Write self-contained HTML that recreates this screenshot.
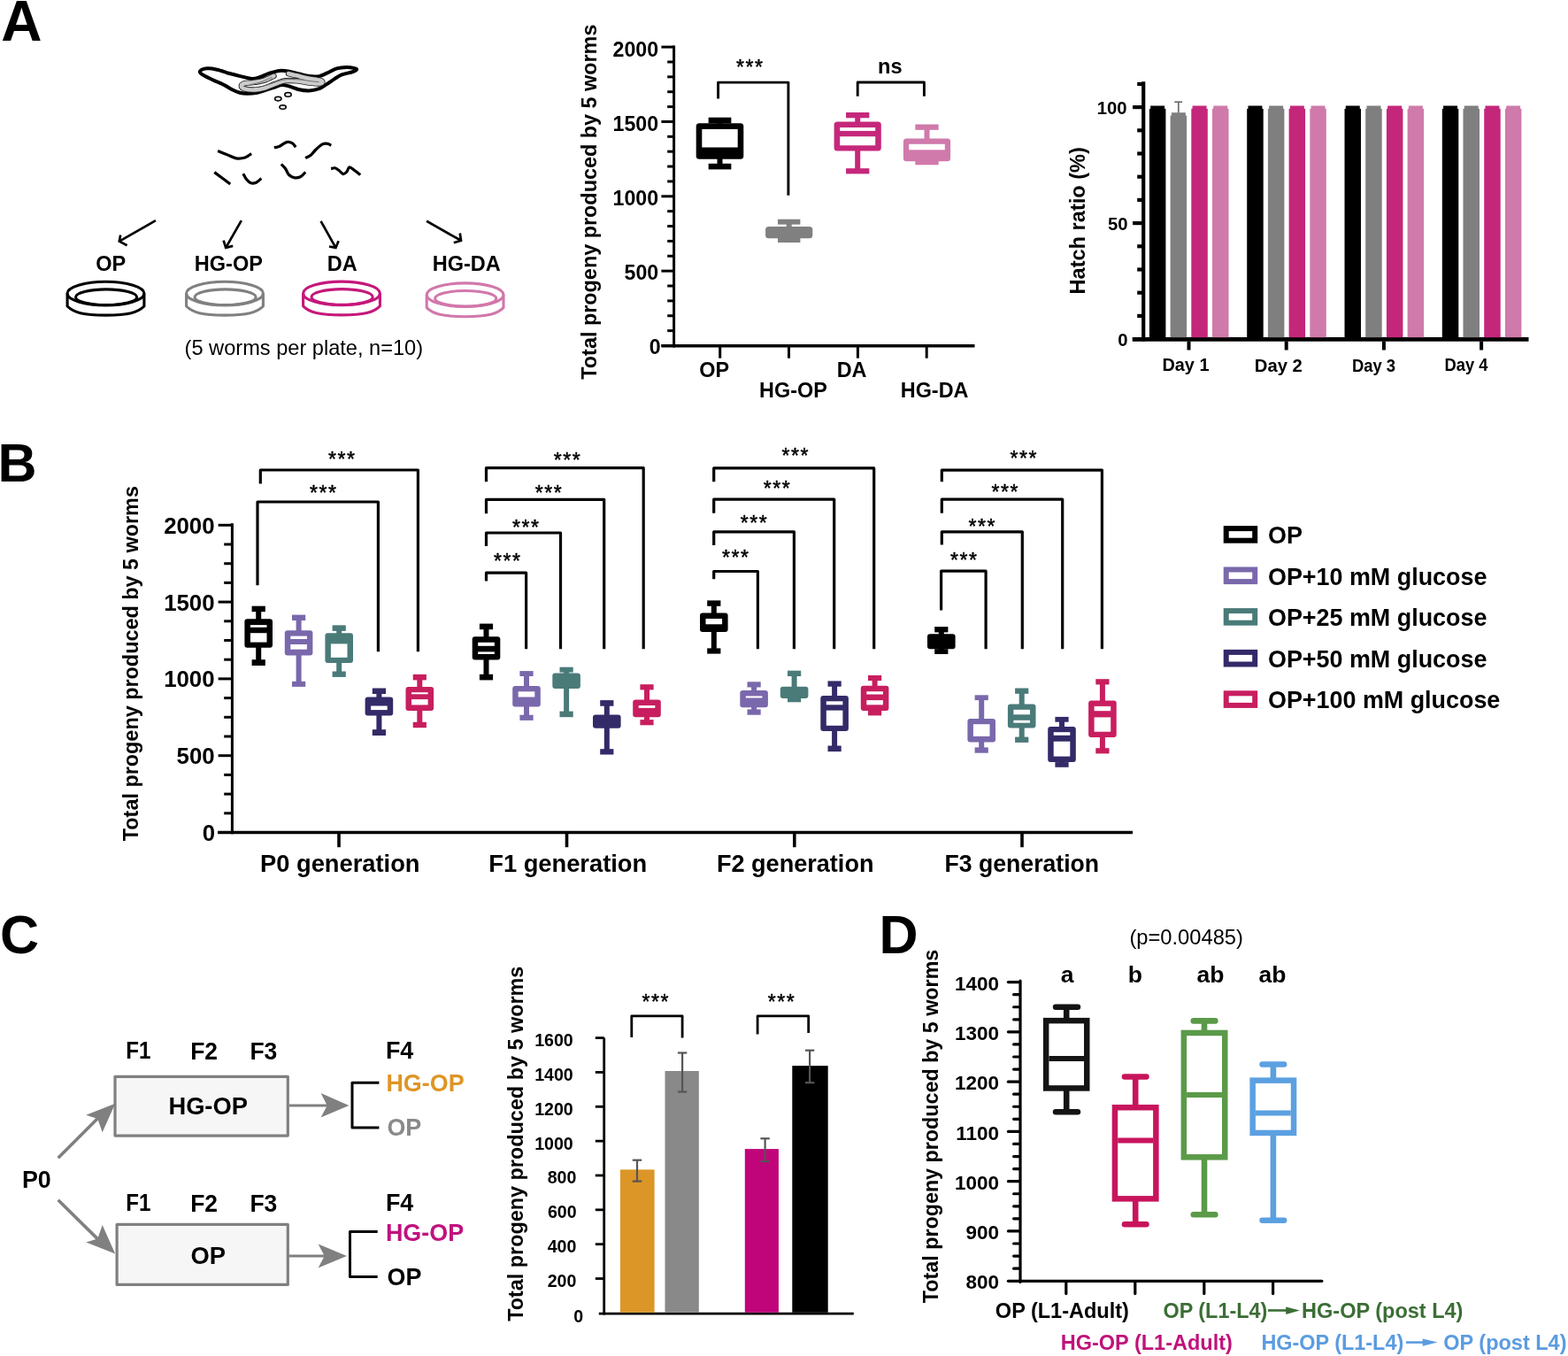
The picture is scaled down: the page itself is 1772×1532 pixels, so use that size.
<!DOCTYPE html><html><head><meta charset="utf-8"><style>html,body{margin:0;padding:0;background:#fff;}svg{display:block;font-family:"Liberation Sans",sans-serif;}</style></head><body>
<svg width="1772" height="1532" viewBox="0 0 1772 1532">
<rect width="1772" height="1532" fill="#fff"/>
<text x="1.2" y="46.46" font-size="64" font-weight="bold" fill="#000">A</text>
<path d="M226.2,80.2 C227.13,79.05 230.9,77.55 234.1,77.3 C237.3,77.05 241.17,77.75 245.4,78.7 C249.63,79.65 254.8,81.68 259.5,83 C264.2,84.32 269.37,85.62 273.6,86.6 C277.83,87.58 281.6,88.8 284.9,88.9 C288.2,89 290.12,88.23 293.4,87.2 C296.68,86.17 300.85,83.92 304.6,82.7 C308.35,81.48 312.18,80.23 315.9,79.9 C319.62,79.57 323.18,80.1 326.9,80.7 C330.62,81.3 334.43,82.6 338.2,83.5 C341.97,84.4 345.73,85.67 349.5,86.1 C353.27,86.53 357.5,86.67 360.8,86.1 C364.1,85.53 366.02,84.17 369.3,82.7 C372.58,81.23 376.75,78.43 380.5,77.3 C384.25,76.17 388.58,75.97 391.8,75.9 C395.02,75.83 397.93,76.45 399.8,76.9 C401.67,77.35 403.38,77.83 403,78.6 C402.62,79.37 400.3,80.53 397.5,81.5 C394.7,82.47 389.5,83.08 386.2,84.4 C382.9,85.72 380.52,87.62 377.7,89.4 C374.88,91.18 372.12,93.3 369.3,95.1 C366.48,96.9 364.1,98.98 360.8,100.2 C357.5,101.42 353.27,102.22 349.5,102.4 C345.73,102.58 341.97,102.12 338.2,101.3 C334.43,100.48 330.18,98.38 326.9,97.5 C323.62,96.62 321.23,95.83 318.5,96 C315.77,96.17 313.58,97.53 310.5,98.5 C307.42,99.47 303.33,100.77 300,101.8 C296.67,102.83 293.95,104.03 290.5,104.7 C287.05,105.37 282.58,105.8 279.3,105.8 C276.02,105.8 273.63,105.45 270.8,104.7 C267.97,103.95 265.32,102.8 262.3,101.3 C259.28,99.8 256.45,97.58 252.7,95.7 C248.95,93.82 243.83,91.92 239.8,90 C235.77,88.08 230.77,85.83 228.5,84.2 C226.23,82.57 225.27,81.35 226.2,80.2Z" stroke="#000" stroke-width="4" fill="#fff" stroke-linejoin="round"/>
<path d="M309.5,85.8 C307.75,86.6 302.92,89.37 299,90.6 C295.08,91.83 289.83,92.6 286,93.2 C282.17,93.8 278.2,93.48 276,94.2 C273.8,94.92 272.63,96.43 272.8,97.5 C272.97,98.57 274.3,99.95 277,100.6 C279.7,101.25 285.17,101.63 289,101.4 C292.83,101.17 296.33,100.3 300,99.2 C303.67,98.1 307.33,96.13 311,94.8 C314.67,93.47 317.83,91.77 322,91.2 C326.17,90.63 331.33,91 336,91.4 C340.67,91.8 345.75,93.1 350,93.6 C354.25,94.1 359.08,94.57 361.5,94.4 C363.92,94.23 364.58,93.23 364.5,92.6 C364.42,91.97 363.75,91.3 361,90.6 C358.25,89.9 352.17,89.23 348,88.4 C343.83,87.57 339.67,86.47 336,85.6 C332.33,84.73 327.67,83.6 326,83.2" stroke="#222" stroke-width="6.4" fill="none" stroke-linecap="round" stroke-linejoin="round"/>
<path d="M309.5,85.8 C307.75,86.6 302.92,89.37 299,90.6 C295.08,91.83 289.83,92.6 286,93.2 C282.17,93.8 278.2,93.48 276,94.2 C273.8,94.92 272.63,96.43 272.8,97.5 C272.97,98.57 274.3,99.95 277,100.6 C279.7,101.25 285.17,101.63 289,101.4 C292.83,101.17 296.33,100.3 300,99.2 C303.67,98.1 307.33,96.13 311,94.8 C314.67,93.47 317.83,91.77 322,91.2 C326.17,90.63 331.33,91 336,91.4 C340.67,91.8 345.75,93.1 350,93.6 C354.25,94.1 359.08,94.57 361.5,94.4 C363.92,94.23 364.58,93.23 364.5,92.6 C364.42,91.97 363.75,91.3 361,90.6 C358.25,89.9 352.17,89.23 348,88.4 C343.83,87.57 339.67,86.47 336,85.6 C332.33,84.73 327.67,83.6 326,83.2" stroke="#cbcbcb" stroke-width="4.6" fill="none" stroke-linecap="round" stroke-linejoin="round"/>
<path d="M307,87.5 C305.17,88.3 299.83,90.95 296,92.3 C292.17,93.65 287.08,94.72 284,95.6 C280.92,96.48 277.67,97.07 277.5,97.6 C277.33,98.13 279.75,98.83 283,98.8 C286.25,98.77 292.5,98.33 297,97.4 C301.5,96.47 305.83,94.47 310,93.2 C314.17,91.93 317.33,90.35 322,89.8 C326.67,89.25 333,89.57 338,89.9 C343,90.23 348.33,91.35 352,91.8 C355.67,92.25 358.67,92.47 360,92.6" stroke="#555" stroke-width="0.8" fill="none" stroke-linecap="round"/>
<ellipse cx="314.3" cy="111.6" rx="3.7" ry="2.3" fill="#e8e8e8" stroke="#000" stroke-width="1.5"/>
<ellipse cx="325.5" cy="106.9" rx="3.7" ry="2.3" fill="#e8e8e8" stroke="#000" stroke-width="1.5"/>
<ellipse cx="319.6" cy="121" rx="3.7" ry="2.3" fill="#e8e8e8" stroke="#000" stroke-width="1.5"/>
<path d="M246.1,170.6 C247.75,171.25 252.53,173.13 256,174.5 C259.47,175.87 263.4,178.22 266.9,178.8 C270.4,179.38 274.13,178.87 277,178 C279.87,177.13 282.92,174.33 284.1,173.6" stroke="#000" stroke-width="3.2" fill="none" stroke-linecap="butt" stroke-linejoin="round"/>
<path d="M309.8,166.8 C310.83,166.53 313.67,166.23 316,165.2 C318.33,164.17 321.38,161.17 323.8,160.6 C326.22,160.03 328.77,160.85 330.5,161.8 C332.23,162.75 333.58,165.55 334.2,166.3" stroke="#000" stroke-width="3.2" fill="none" stroke-linecap="butt" stroke-linejoin="round"/>
<path d="M345.2,178.6 C346.17,178.08 349.03,177.1 351,175.5 C352.97,173.9 354.83,171.05 357,169 C359.17,166.95 361.83,164.32 364,163.2 C366.17,162.08 368.28,162.13 370,162.3 C371.72,162.47 373.58,163.88 374.3,164.2" stroke="#000" stroke-width="3.2" fill="none" stroke-linecap="butt" stroke-linejoin="round"/>
<path d="M242.3,194.6 C245.28,196.83 257.22,205.77 260.2,208" stroke="#000" stroke-width="3.2" fill="none" stroke-linecap="butt" stroke-linejoin="round"/>
<path d="M274.8,196.2 C275.42,197.25 277.05,200.73 278.5,202.5 C279.95,204.27 281.67,206.18 283.5,206.8 C285.33,207.42 287.53,207.07 289.5,206.2 C291.47,205.33 294.33,202.37 295.3,201.6" stroke="#000" stroke-width="3.2" fill="none" stroke-linecap="butt" stroke-linejoin="round"/>
<path d="M317.8,185.5 C318.58,186.33 321.05,188.5 322.5,190.5 C323.95,192.5 324.75,195.78 326.5,197.5 C328.25,199.22 330.75,200.47 333,200.8 C335.25,201.13 337.97,200.55 340,199.5 C342.03,198.45 344.33,195.33 345.2,194.5" stroke="#000" stroke-width="3.2" fill="none" stroke-linecap="butt" stroke-linejoin="round"/>
<path d="M374.1,190.6 C374.83,190.47 377.02,189.48 378.5,189.8 C379.98,190.12 381.45,191.37 383,192.5 C384.55,193.63 386.3,196.35 387.8,196.6 C389.3,196.85 390.82,195.3 392,194 C393.18,192.7 393.4,189 394.9,188.8 C396.4,188.6 398.93,191.33 401,192.8 C403.07,194.27 406.25,196.8 407.3,197.6" stroke="#000" stroke-width="3.2" fill="none" stroke-linecap="butt" stroke-linejoin="round"/>
<line x1="175.9" y1="249.2" x2="134.8" y2="272.6" stroke="#000" stroke-width="2.7" stroke-linecap="butt"/>
<path d="M136.2,265.6 L134.8,272.6 L143.6,277.2" stroke="#000" stroke-width="2.7" fill="none" stroke-linejoin="miter"/>
<line x1="272.8" y1="249.2" x2="255.2" y2="279.9" stroke="#000" stroke-width="2.7" stroke-linecap="butt"/>
<path d="M252.6,271.6 L255.2,279.9 L263.2,277.9" stroke="#000" stroke-width="2.7" fill="none" stroke-linejoin="miter"/>
<line x1="362.6" y1="249.8" x2="379.4" y2="279.9" stroke="#000" stroke-width="2.7" stroke-linecap="butt"/>
<path d="M372,278.5 L379.4,279.9 L382.6,272.2" stroke="#000" stroke-width="2.7" fill="none" stroke-linejoin="miter"/>
<line x1="482.1" y1="249.8" x2="521" y2="271.8" stroke="#000" stroke-width="2.7" stroke-linecap="butt"/>
<path d="M519.8,263.5 L521,271.8 L512.8,274.2" stroke="#000" stroke-width="2.7" fill="none" stroke-linejoin="miter"/>
<text x="108.26" y="305.65" font-size="23.5" font-weight="bold" fill="#000">OP</text>
<text x="219.87" y="305.65" font-size="23.5" font-weight="bold" fill="#000">HG-OP</text>
<text x="369.87" y="306.21" font-size="23.5" font-weight="bold" fill="#000">DA</text>
<text x="488.67" y="306.45" font-size="23.5" font-weight="bold" fill="#000">HG-DA</text>
<g fill="none" stroke="#000" stroke-width="3.1" stroke-linejoin="round">
<ellipse cx="119.5" cy="331.6" rx="43.4" ry="13.3"/>
<ellipse cx="120.1" cy="335.7" rx="34.6" ry="8.85"/>
<path d="M76.1,331.6 V346 C83.5,353.2 93.5,356 119.5,356.1 C145.5,356 155.5,353.2 162.9,346 V331.6"/>
</g>
<g fill="none" stroke="#808080" stroke-width="3.1" stroke-linejoin="round">
<ellipse cx="254" cy="331.6" rx="43.4" ry="13.3"/>
<ellipse cx="254.6" cy="335.7" rx="34.6" ry="8.85"/>
<path d="M210.6,331.6 V346 C218,353.2 228,356 254,356.1 C280,356 290,353.2 297.4,346 V331.6"/>
</g>
<g fill="none" stroke="#c5177a" stroke-width="3.1" stroke-linejoin="round">
<ellipse cx="386" cy="331.4" rx="43.4" ry="13.3"/>
<ellipse cx="386.6" cy="335.5" rx="34.6" ry="8.85"/>
<path d="M342.6,331.4 V345.8 C350,353 360,355.8 386,355.9 C412,355.8 422,353 429.4,345.8 V331.4"/>
</g>
<g fill="none" stroke="#d277ab" stroke-width="3.1" stroke-linejoin="round">
<ellipse cx="525.6" cy="333.2" rx="43.4" ry="13.3"/>
<ellipse cx="526.2" cy="337.3" rx="34.6" ry="8.85"/>
<path d="M482.2,333.2 V347.6 C489.6,354.8 499.6,357.6 525.6,357.7 C551.6,357.6 561.6,354.8 569,347.6 V333.2"/>
</g>
<text x="208.58" y="401.31" font-size="23.6" font-weight="normal" fill="#000">(5 worms per plate, n=10)</text>
<line x1="761.6" y1="51.5" x2="761.6" y2="392.5" stroke="#000" stroke-width="3" stroke-linecap="butt"/>
<line x1="747.4" y1="390.5" x2="761.6" y2="390.5" stroke="#000" stroke-width="3" stroke-linecap="butt"/>
<line x1="754.2" y1="373.63" x2="761.6" y2="373.63" stroke="#000" stroke-width="3" stroke-linecap="butt"/>
<line x1="754.2" y1="356.76" x2="761.6" y2="356.76" stroke="#000" stroke-width="3" stroke-linecap="butt"/>
<line x1="754.2" y1="339.89" x2="761.6" y2="339.89" stroke="#000" stroke-width="3" stroke-linecap="butt"/>
<line x1="754.2" y1="323.02" x2="761.6" y2="323.02" stroke="#000" stroke-width="3" stroke-linecap="butt"/>
<line x1="747.4" y1="306.15" x2="761.6" y2="306.15" stroke="#000" stroke-width="3" stroke-linecap="butt"/>
<line x1="754.2" y1="289.28" x2="761.6" y2="289.28" stroke="#000" stroke-width="3" stroke-linecap="butt"/>
<line x1="754.2" y1="272.41" x2="761.6" y2="272.41" stroke="#000" stroke-width="3" stroke-linecap="butt"/>
<line x1="754.2" y1="255.54" x2="761.6" y2="255.54" stroke="#000" stroke-width="3" stroke-linecap="butt"/>
<line x1="754.2" y1="238.67" x2="761.6" y2="238.67" stroke="#000" stroke-width="3" stroke-linecap="butt"/>
<line x1="747.4" y1="221.8" x2="761.6" y2="221.8" stroke="#000" stroke-width="3" stroke-linecap="butt"/>
<line x1="754.2" y1="204.93" x2="761.6" y2="204.93" stroke="#000" stroke-width="3" stroke-linecap="butt"/>
<line x1="754.2" y1="188.06" x2="761.6" y2="188.06" stroke="#000" stroke-width="3" stroke-linecap="butt"/>
<line x1="754.2" y1="171.19" x2="761.6" y2="171.19" stroke="#000" stroke-width="3" stroke-linecap="butt"/>
<line x1="754.2" y1="154.32" x2="761.6" y2="154.32" stroke="#000" stroke-width="3" stroke-linecap="butt"/>
<line x1="747.4" y1="137.45" x2="761.6" y2="137.45" stroke="#000" stroke-width="3" stroke-linecap="butt"/>
<line x1="754.2" y1="120.58" x2="761.6" y2="120.58" stroke="#000" stroke-width="3" stroke-linecap="butt"/>
<line x1="754.2" y1="103.71" x2="761.6" y2="103.71" stroke="#000" stroke-width="3" stroke-linecap="butt"/>
<line x1="754.2" y1="86.84" x2="761.6" y2="86.84" stroke="#000" stroke-width="3" stroke-linecap="butt"/>
<line x1="754.2" y1="69.97" x2="761.6" y2="69.97" stroke="#000" stroke-width="3" stroke-linecap="butt"/>
<line x1="747.4" y1="53.1" x2="761.6" y2="53.1" stroke="#000" stroke-width="3" stroke-linecap="butt"/>
<text x="692.51" y="63.84" font-size="23.2" font-weight="bold" fill="#000">2000</text>
<text x="692.51" y="147.84" font-size="23.2" font-weight="bold" fill="#000">1500</text>
<text x="692.51" y="231.84" font-size="23.2" font-weight="bold" fill="#000">1000</text>
<text x="705.5" y="316.04" font-size="23.2" font-weight="bold" fill="#000">500</text>
<text x="733.85" y="400.24" font-size="23.2" font-weight="bold" fill="#000">0</text>
<line x1="747.4" y1="390.7" x2="1101.5" y2="390.7" stroke="#000" stroke-width="3.4" stroke-linecap="butt"/>
<line x1="813.7" y1="392" x2="813.7" y2="404.7" stroke="#000" stroke-width="3" stroke-linecap="butt"/>
<line x1="891.5" y1="392" x2="891.5" y2="404.7" stroke="#000" stroke-width="3" stroke-linecap="butt"/>
<line x1="969.4" y1="392" x2="969.4" y2="404.7" stroke="#000" stroke-width="3" stroke-linecap="butt"/>
<line x1="1047.2" y1="392" x2="1047.2" y2="404.7" stroke="#000" stroke-width="3" stroke-linecap="butt"/>
<text x="790.26" y="425.78" font-size="23.4" font-weight="bold" fill="#000">OP</text>
<text x="858.08" y="448.98" font-size="23.4" font-weight="bold" fill="#000">HG-OP</text>
<text x="945.68" y="425.55" font-size="23.4" font-weight="bold" fill="#000">DA</text>
<text x="1017.78" y="448.98" font-size="23.4" font-weight="bold" fill="#000">HG-DA</text>
<text transform="translate(673.87,428.73) rotate(-90)" x="0" y="0" font-size="23.4" font-weight="bold" fill="#000">Total progeny produced by 5 worms</text>
<rect x="810.5" y="136" width="6" height="52.1" fill="#000"/>
<rect x="800.65" y="132.7" width="25.7" height="6.6" fill="#000"/>
<rect x="800.65" y="184.8" width="25.7" height="6.6" fill="#000"/>
<rect x="786.7" y="139.3" width="53.6" height="40.4" fill="#000" rx="3.5"/>
<rect x="793.3" y="145.9" width="40.4" height="20.6" fill="#fff"/>
<rect x="888.7" y="250.65" width="6" height="20.6" fill="#808080"/>
<rect x="879" y="247.7" width="25.4" height="5.9" fill="#808080"/>
<rect x="879" y="268.5" width="25.4" height="5.5" fill="#808080"/>
<rect x="865.1" y="256" width="53.2" height="13.3" fill="#808080" rx="3.5"/>
<rect x="966.2" y="130.15" width="6" height="63.15" fill="#c5287b"/>
<rect x="956.05" y="127" width="26.3" height="6.3" fill="#c5287b"/>
<rect x="956.05" y="190.2" width="26.3" height="6.2" fill="#c5287b"/>
<rect x="942.6" y="137.4" width="53.2" height="33.2" fill="#c5287b" rx="3.5"/>
<rect x="949.2" y="144" width="40" height="3.9" fill="#fff"/>
<rect x="949.2" y="154.2" width="40" height="10.1" fill="#fff"/>
<rect x="1044.5" y="143.65" width="6" height="39.65" fill="#d07aab"/>
<rect x="1034.35" y="140.5" width="26.3" height="6.3" fill="#d07aab"/>
<rect x="1034.35" y="180.3" width="26.3" height="6" fill="#d07aab"/>
<rect x="1020.9" y="156.5" width="53.2" height="25.8" fill="#d07aab" rx="3.5"/>
<rect x="1027.2" y="162.8" width="40.6" height="6.5" fill="#fff"/>
<path d="M811.6,111.4 V93.1 H890.9 V220.8" stroke="#000" stroke-width="2.9" fill="none" stroke-linejoin="round"/>
<text x="832.11" y="84.12" font-size="23" font-weight="normal" letter-spacing="1.55" stroke="#000" stroke-width="0.5" stroke-linejoin="round">***</text>
<path d="M969.2,108.7 V93 H1044.4 V108.7" stroke="#000" stroke-width="2.9" fill="none" stroke-linejoin="round"/>
<text x="992.07" y="83.34" font-size="23.6" font-weight="bold" fill="#000">ns</text>
<line x1="1292.2" y1="92.3" x2="1292.2" y2="385.5" stroke="#000" stroke-width="4.2" stroke-linecap="butt"/>
<line x1="1280" y1="383.1" x2="1292.2" y2="383.1" stroke="#000" stroke-width="4.2" stroke-linecap="butt"/>
<line x1="1285.2" y1="356.9" x2="1292.2" y2="356.9" stroke="#000" stroke-width="4.2" stroke-linecap="butt"/>
<line x1="1285.2" y1="330.7" x2="1292.2" y2="330.7" stroke="#000" stroke-width="4.2" stroke-linecap="butt"/>
<line x1="1285.2" y1="304.5" x2="1292.2" y2="304.5" stroke="#000" stroke-width="4.2" stroke-linecap="butt"/>
<line x1="1285.2" y1="278.3" x2="1292.2" y2="278.3" stroke="#000" stroke-width="4.2" stroke-linecap="butt"/>
<line x1="1280" y1="252.1" x2="1292.2" y2="252.1" stroke="#000" stroke-width="4.2" stroke-linecap="butt"/>
<line x1="1285.2" y1="225.9" x2="1292.2" y2="225.9" stroke="#000" stroke-width="4.2" stroke-linecap="butt"/>
<line x1="1285.2" y1="199.7" x2="1292.2" y2="199.7" stroke="#000" stroke-width="4.2" stroke-linecap="butt"/>
<line x1="1285.2" y1="173.5" x2="1292.2" y2="173.5" stroke="#000" stroke-width="4.2" stroke-linecap="butt"/>
<line x1="1285.2" y1="147.3" x2="1292.2" y2="147.3" stroke="#000" stroke-width="4.2" stroke-linecap="butt"/>
<line x1="1280" y1="121.1" x2="1292.2" y2="121.1" stroke="#000" stroke-width="4.2" stroke-linecap="butt"/>
<line x1="1285.2" y1="94.9" x2="1292.2" y2="94.9" stroke="#000" stroke-width="4.2" stroke-linecap="butt"/>
<text x="1239.81" y="128.51" font-size="20.3" font-weight="bold" fill="#000">100</text>
<text x="1252.08" y="259.81" font-size="20.3" font-weight="bold" fill="#000">50</text>
<text x="1263.15" y="391.01" font-size="20.3" font-weight="bold" fill="#000">0</text>
<line x1="1279.7" y1="383.4" x2="1727.5" y2="383.4" stroke="#000" stroke-width="4.6" stroke-linecap="butt"/>
<rect x="1298.9" y="122.9" width="18.5" height="258.3" fill="#000"/>
<rect x="1300.15" y="119.5" width="16" height="3.8" fill="#000"/>
<rect x="1322.6" y="130.6" width="18.5" height="250.6" fill="#7f7f7f"/>
<rect x="1323.85" y="127.2" width="16" height="3.8" fill="#7f7f7f"/>
<rect x="1346.3" y="122.9" width="18.5" height="258.3" fill="#c4277a"/>
<rect x="1347.55" y="119.5" width="16" height="3.8" fill="#c4277a"/>
<rect x="1370" y="122.9" width="18.5" height="258.3" fill="#cf7aaa"/>
<rect x="1371.25" y="119.5" width="16" height="3.8" fill="#cf7aaa"/>
<line x1="1343.5" y1="385.5" x2="1343.5" y2="395.5" stroke="#000" stroke-width="4" stroke-linecap="butt"/>
<text x="1313.41" y="419.31" font-size="20.3" font-weight="bold" fill="#000" textLength="53.06" lengthAdjust="spacingAndGlyphs">Day 1</text>
<rect x="1409.2" y="122.9" width="18.5" height="258.3" fill="#000"/>
<rect x="1410.45" y="119.5" width="16" height="3.8" fill="#000"/>
<rect x="1432.9" y="122.9" width="18.5" height="258.3" fill="#7f7f7f"/>
<rect x="1434.15" y="119.5" width="16" height="3.8" fill="#7f7f7f"/>
<rect x="1456.6" y="122.9" width="18.5" height="258.3" fill="#c4277a"/>
<rect x="1457.85" y="119.5" width="16" height="3.8" fill="#c4277a"/>
<rect x="1480.3" y="122.9" width="18.5" height="258.3" fill="#cf7aaa"/>
<rect x="1481.55" y="119.5" width="16" height="3.8" fill="#cf7aaa"/>
<line x1="1453.7" y1="385.5" x2="1453.7" y2="395.5" stroke="#000" stroke-width="4" stroke-linecap="butt"/>
<text x="1417.78" y="419.51" font-size="20.3" font-weight="bold" fill="#000" textLength="54" lengthAdjust="spacingAndGlyphs">Day 2</text>
<rect x="1519.5" y="122.9" width="18.5" height="258.3" fill="#000"/>
<rect x="1520.75" y="119.5" width="16" height="3.8" fill="#000"/>
<rect x="1543.2" y="122.9" width="18.5" height="258.3" fill="#7f7f7f"/>
<rect x="1544.45" y="119.5" width="16" height="3.8" fill="#7f7f7f"/>
<rect x="1566.9" y="122.9" width="18.5" height="258.3" fill="#c4277a"/>
<rect x="1568.15" y="119.5" width="16" height="3.8" fill="#c4277a"/>
<rect x="1590.6" y="122.9" width="18.5" height="258.3" fill="#cf7aaa"/>
<rect x="1591.85" y="119.5" width="16" height="3.8" fill="#cf7aaa"/>
<line x1="1563.9" y1="385.5" x2="1563.9" y2="395.5" stroke="#000" stroke-width="4" stroke-linecap="butt"/>
<text x="1528" y="419.51" font-size="20.3" font-weight="bold" fill="#000" textLength="49.1" lengthAdjust="spacingAndGlyphs">Day 3</text>
<rect x="1629.8" y="122.9" width="18.5" height="258.3" fill="#000"/>
<rect x="1631.05" y="119.5" width="16" height="3.8" fill="#000"/>
<rect x="1653.5" y="122.9" width="18.5" height="258.3" fill="#7f7f7f"/>
<rect x="1654.75" y="119.5" width="16" height="3.8" fill="#7f7f7f"/>
<rect x="1677.2" y="122.9" width="18.5" height="258.3" fill="#c4277a"/>
<rect x="1678.45" y="119.5" width="16" height="3.8" fill="#c4277a"/>
<rect x="1700.9" y="122.9" width="18.5" height="258.3" fill="#cf7aaa"/>
<rect x="1702.15" y="119.5" width="16" height="3.8" fill="#cf7aaa"/>
<line x1="1674.1" y1="385.5" x2="1674.1" y2="395.5" stroke="#000" stroke-width="4" stroke-linecap="butt"/>
<text x="1632.61" y="419.31" font-size="20.3" font-weight="bold" fill="#000" textLength="48.85" lengthAdjust="spacingAndGlyphs">Day 4</text>
<line x1="1331.8" y1="115.2" x2="1331.8" y2="127.5" stroke="#6a6a6a" stroke-width="1.7" stroke-linecap="butt"/>
<line x1="1327.3" y1="115.2" x2="1336.1" y2="115.2" stroke="#6a6a6a" stroke-width="1.7" stroke-linecap="butt"/>
<text transform="translate(1226.01,332.53) rotate(-90)" x="0" y="0" font-size="23.6" font-weight="bold" fill="#000">Hatch ratio (%)</text>
<text x="-2.47" y="544.39" font-size="61" font-weight="bold" fill="#000">B</text>
<line x1="262.4" y1="591.3" x2="262.4" y2="942.3" stroke="#000" stroke-width="3" stroke-linecap="butt"/>
<line x1="246.6" y1="940.5" x2="262.4" y2="940.5" stroke="#000" stroke-width="3" stroke-linecap="butt"/>
<line x1="253.2" y1="918.8" x2="262.4" y2="918.8" stroke="#000" stroke-width="3" stroke-linecap="butt"/>
<line x1="253.2" y1="897.1" x2="262.4" y2="897.1" stroke="#000" stroke-width="3" stroke-linecap="butt"/>
<line x1="253.2" y1="875.4" x2="262.4" y2="875.4" stroke="#000" stroke-width="3" stroke-linecap="butt"/>
<line x1="246.6" y1="853.7" x2="262.4" y2="853.7" stroke="#000" stroke-width="3" stroke-linecap="butt"/>
<line x1="253.2" y1="832" x2="262.4" y2="832" stroke="#000" stroke-width="3" stroke-linecap="butt"/>
<line x1="253.2" y1="810.3" x2="262.4" y2="810.3" stroke="#000" stroke-width="3" stroke-linecap="butt"/>
<line x1="253.2" y1="788.6" x2="262.4" y2="788.6" stroke="#000" stroke-width="3" stroke-linecap="butt"/>
<line x1="246.6" y1="766.9" x2="262.4" y2="766.9" stroke="#000" stroke-width="3" stroke-linecap="butt"/>
<line x1="253.2" y1="745.2" x2="262.4" y2="745.2" stroke="#000" stroke-width="3" stroke-linecap="butt"/>
<line x1="253.2" y1="723.5" x2="262.4" y2="723.5" stroke="#000" stroke-width="3" stroke-linecap="butt"/>
<line x1="253.2" y1="701.8" x2="262.4" y2="701.8" stroke="#000" stroke-width="3" stroke-linecap="butt"/>
<line x1="246.6" y1="680.1" x2="262.4" y2="680.1" stroke="#000" stroke-width="3" stroke-linecap="butt"/>
<line x1="253.2" y1="658.4" x2="262.4" y2="658.4" stroke="#000" stroke-width="3" stroke-linecap="butt"/>
<line x1="253.2" y1="636.7" x2="262.4" y2="636.7" stroke="#000" stroke-width="3" stroke-linecap="butt"/>
<line x1="253.2" y1="615" x2="262.4" y2="615" stroke="#000" stroke-width="3" stroke-linecap="butt"/>
<line x1="246.6" y1="593.3" x2="262.4" y2="593.3" stroke="#000" stroke-width="3" stroke-linecap="butt"/>
<text x="185.13" y="602.86" font-size="25.8" font-weight="bold" fill="#000">2000</text>
<text x="185.13" y="689.66" font-size="25.8" font-weight="bold" fill="#000">1500</text>
<text x="185.13" y="776.46" font-size="25.8" font-weight="bold" fill="#000">1000</text>
<text x="199.57" y="863.26" font-size="25.8" font-weight="bold" fill="#000">500</text>
<text x="228.71" y="950.06" font-size="25.8" font-weight="bold" fill="#000">0</text>
<line x1="246" y1="940.5" x2="1280" y2="940.5" stroke="#000" stroke-width="3.6" stroke-linecap="butt"/>
<line x1="383" y1="942" x2="383" y2="957.2" stroke="#000" stroke-width="3.6" stroke-linecap="butt"/>
<line x1="640.5" y1="942" x2="640.5" y2="957.2" stroke="#000" stroke-width="3.6" stroke-linecap="butt"/>
<line x1="897.8" y1="942" x2="897.8" y2="957.2" stroke="#000" stroke-width="3.6" stroke-linecap="butt"/>
<line x1="1155" y1="942" x2="1155" y2="957.2" stroke="#000" stroke-width="3.6" stroke-linecap="butt"/>
<text x="294.03" y="984.79" font-size="27.3" font-weight="bold" fill="#000" textLength="180.49" lengthAdjust="spacingAndGlyphs">P0 generation</text>
<text x="552.23" y="984.79" font-size="27.3" font-weight="bold" fill="#000" textLength="178.96" lengthAdjust="spacingAndGlyphs">F1 generation</text>
<text x="809.94" y="984.79" font-size="27.3" font-weight="bold" fill="#000" textLength="177.53" lengthAdjust="spacingAndGlyphs">F2 generation</text>
<text x="1067.47" y="984.79" font-size="27.3" font-weight="bold" fill="#000" textLength="174.68" lengthAdjust="spacingAndGlyphs">F3 generation</text>
<text transform="translate(156.47,950.23) rotate(-90)" x="0" y="0" font-size="23.4" font-weight="bold" fill="#000">Total progeny produced by 5 worms</text>
<rect x="289.2" y="687.95" width="6" height="60.65" fill="#000"/>
<rect x="284.6" y="684.7" width="15.2" height="6.5" fill="#000"/>
<rect x="284.6" y="745.2" width="15.2" height="6.8" fill="#000"/>
<rect x="276.4" y="699.3" width="31.6" height="32.5" fill="#000" rx="3"/>
<rect x="282.9" y="706.1" width="18.6" height="2.7" fill="#fff"/>
<rect x="282.9" y="715.2" width="18.6" height="10.4" fill="#fff"/>
<rect x="334.6" y="697.8" width="6" height="75.05" fill="#7a68ac"/>
<rect x="330" y="694.6" width="15.2" height="6.4" fill="#7a68ac"/>
<rect x="330" y="769.8" width="15.2" height="6.1" fill="#7a68ac"/>
<rect x="321.8" y="712.2" width="31.6" height="28.3" fill="#7a68ac" rx="3"/>
<rect x="328.3" y="718.6" width="18.6" height="3.4" fill="#fff"/>
<rect x="328.3" y="728" width="18.6" height="5.7" fill="#fff"/>
<rect x="380.2" y="709.65" width="6" height="52.05" fill="#4a7b79"/>
<rect x="375.6" y="706.4" width="15.2" height="6.5" fill="#4a7b79"/>
<rect x="375.6" y="758.5" width="15.2" height="6.4" fill="#4a7b79"/>
<rect x="367.4" y="715.2" width="31.6" height="33.8" fill="#4a7b79" rx="3"/>
<rect x="373.9" y="727.4" width="18.6" height="15.5" fill="#fff"/>
<rect x="425.4" y="780.75" width="6" height="46.85" fill="#332a68"/>
<rect x="420.8" y="777.5" width="15.2" height="6.5" fill="#332a68"/>
<rect x="420.8" y="824.2" width="15.2" height="6.8" fill="#332a68"/>
<rect x="412.6" y="787.4" width="31.6" height="21.2" fill="#332a68" rx="3"/>
<rect x="419.1" y="797.5" width="18.6" height="4.6" fill="#fff"/>
<rect x="471.3" y="765.15" width="6" height="53.85" fill="#c81e5f"/>
<rect x="466.7" y="761.9" width="15.2" height="6.5" fill="#c81e5f"/>
<rect x="466.7" y="815.8" width="15.2" height="6.4" fill="#c81e5f"/>
<rect x="458.5" y="775.9" width="31.6" height="27" fill="#c81e5f" rx="3"/>
<rect x="465" y="782.2" width="18.6" height="2.1" fill="#fff"/>
<rect x="465" y="790.1" width="18.6" height="6.3" fill="#fff"/>
<rect x="546.5" y="707.9" width="6" height="57.2" fill="#000"/>
<rect x="541.9" y="704.6" width="15.2" height="6.6" fill="#000"/>
<rect x="541.9" y="761.8" width="15.2" height="6.6" fill="#000"/>
<rect x="533.7" y="719.2" width="31.6" height="26.2" fill="#000" rx="3"/>
<rect x="540.2" y="725.8" width="18.6" height="4" fill="#fff"/>
<rect x="540.2" y="736.4" width="18.6" height="2.6" fill="#fff"/>
<rect x="592" y="761.05" width="6" height="49.75" fill="#7a68ac"/>
<rect x="587.4" y="758.1" width="15.2" height="5.9" fill="#7a68ac"/>
<rect x="587.4" y="807.7" width="15.2" height="6.2" fill="#7a68ac"/>
<rect x="579.2" y="775" width="31.6" height="23.5" fill="#7a68ac" rx="3"/>
<rect x="585.7" y="781.3" width="18.6" height="6.2" fill="#fff"/>
<rect x="637.1" y="756.65" width="6" height="50.25" fill="#4a7b79"/>
<rect x="632.5" y="753.7" width="15.2" height="5.9" fill="#4a7b79"/>
<rect x="632.5" y="803.6" width="15.2" height="6.6" fill="#4a7b79"/>
<rect x="624.3" y="760.6" width="31.6" height="17.3" fill="#4a7b79" rx="3"/>
<rect x="682.8" y="794.4" width="6" height="54.95" fill="#332a68"/>
<rect x="678.2" y="791.1" width="15.2" height="6.6" fill="#332a68"/>
<rect x="678.2" y="846.2" width="15.2" height="6.3" fill="#332a68"/>
<rect x="670" y="807.6" width="31.6" height="15.1" fill="#332a68" rx="3"/>
<rect x="728" y="776.3" width="6" height="39.9" fill="#c81e5f"/>
<rect x="723.4" y="773.2" width="15.2" height="6.2" fill="#c81e5f"/>
<rect x="723.4" y="813.1" width="15.2" height="6.2" fill="#c81e5f"/>
<rect x="715.2" y="790.4" width="31.6" height="19.8" fill="#c81e5f" rx="3"/>
<rect x="721.7" y="797" width="18.6" height="2.9" fill="#fff"/>
<rect x="803.8" y="681.6" width="6" height="53.9" fill="#000"/>
<rect x="799.2" y="678.4" width="15.2" height="6.4" fill="#000"/>
<rect x="799.2" y="732.4" width="15.2" height="6.2" fill="#000"/>
<rect x="791" y="692.5" width="31.6" height="21.6" fill="#000" rx="3"/>
<rect x="797.5" y="699" width="18.6" height="6.3" fill="#fff"/>
<rect x="849.1" y="773.4" width="6" height="31.15" fill="#7a68ac"/>
<rect x="844.5" y="770.3" width="15.2" height="6.2" fill="#7a68ac"/>
<rect x="844.5" y="801.4" width="15.2" height="6.3" fill="#7a68ac"/>
<rect x="836.3" y="780.1" width="31.6" height="19.1" fill="#7a68ac" rx="3"/>
<rect x="842.8" y="786.4" width="18.6" height="2.1" fill="#fff"/>
<rect x="894.6" y="760.85" width="6" height="29.3" fill="#4a7b79"/>
<rect x="890" y="757.7" width="15.2" height="6.3" fill="#4a7b79"/>
<rect x="890" y="787" width="15.2" height="6.3" fill="#4a7b79"/>
<rect x="881.8" y="775.7" width="31.6" height="13.2" fill="#4a7b79" rx="3"/>
<rect x="940.1" y="772.55" width="6" height="73.25" fill="#332a68"/>
<rect x="935.5" y="769.4" width="15.2" height="6.3" fill="#332a68"/>
<rect x="935.5" y="842.5" width="15.2" height="6.6" fill="#332a68"/>
<rect x="927.3" y="786" width="31.6" height="40.1" fill="#332a68" rx="3"/>
<rect x="933.8" y="792.3" width="18.6" height="4" fill="#fff"/>
<rect x="933.8" y="802.6" width="18.6" height="17.2" fill="#fff"/>
<rect x="985.6" y="766.05" width="6" height="39.6" fill="#c81e5f"/>
<rect x="981" y="763" width="15.2" height="6.1" fill="#c81e5f"/>
<rect x="981" y="802.9" width="15.2" height="5.5" fill="#c81e5f"/>
<rect x="972.8" y="774.7" width="31.6" height="28.2" fill="#c81e5f" rx="3"/>
<rect x="979.3" y="781.2" width="18.6" height="3.3" fill="#fff"/>
<rect x="979.3" y="791.1" width="18.6" height="5.2" fill="#fff"/>
<rect x="1060.8" y="711.25" width="6" height="24.85" fill="#000"/>
<rect x="1056.2" y="708.1" width="15.2" height="6.3" fill="#000"/>
<rect x="1056.2" y="733.2" width="15.2" height="5.8" fill="#000"/>
<rect x="1048" y="716.3" width="31.6" height="16.9" fill="#000" rx="3"/>
<rect x="1106.2" y="788.2" width="6" height="59.35" fill="#7a68ac"/>
<rect x="1101.6" y="785.3" width="15.2" height="5.8" fill="#7a68ac"/>
<rect x="1101.6" y="844.4" width="15.2" height="6.3" fill="#7a68ac"/>
<rect x="1093.4" y="812" width="31.6" height="26.6" fill="#7a68ac" rx="3"/>
<rect x="1099.9" y="818.2" width="18.6" height="13.7" fill="#fff"/>
<rect x="1151.7" y="780.65" width="6" height="55.1" fill="#4a7b79"/>
<rect x="1147.1" y="777.5" width="15.2" height="6.3" fill="#4a7b79"/>
<rect x="1147.1" y="832.6" width="15.2" height="6.3" fill="#4a7b79"/>
<rect x="1138.9" y="795.4" width="31.6" height="27.1" fill="#4a7b79" rx="3"/>
<rect x="1145.4" y="801.8" width="18.6" height="5.5" fill="#fff"/>
<rect x="1145.4" y="813.8" width="18.6" height="2.9" fill="#fff"/>
<rect x="1197" y="812.8" width="6" height="51.15" fill="#332a68"/>
<rect x="1192.4" y="809.9" width="15.2" height="5.8" fill="#332a68"/>
<rect x="1192.4" y="861.1" width="15.2" height="5.7" fill="#332a68"/>
<rect x="1184.2" y="820.9" width="31.6" height="40.2" fill="#332a68" rx="3"/>
<rect x="1190.7" y="827.2" width="18.6" height="3.6" fill="#fff"/>
<rect x="1190.7" y="837.7" width="18.6" height="16.9" fill="#fff"/>
<rect x="1242.9" y="770.3" width="6" height="78" fill="#c81e5f"/>
<rect x="1238.3" y="767.2" width="15.2" height="6.2" fill="#c81e5f"/>
<rect x="1238.3" y="845.2" width="15.2" height="6.2" fill="#c81e5f"/>
<rect x="1230.1" y="791.6" width="31.6" height="41.4" fill="#c81e5f" rx="3"/>
<rect x="1236.6" y="797.9" width="18.6" height="5.3" fill="#fff"/>
<rect x="1236.6" y="810.4" width="18.6" height="16.3" fill="#fff"/>
<path d="M294.3,546.5 V531 H472.4 V736.2" stroke="#000" stroke-width="3.2" fill="none" stroke-linejoin="round"/>
<text x="371" y="526.52" font-size="23" font-weight="normal" letter-spacing="1.55" stroke="#000" stroke-width="0.5" stroke-linejoin="round">***</text>
<path d="M291,661.2 V567 H427.4 V736.2" stroke="#000" stroke-width="3.2" fill="none" stroke-linejoin="round"/>
<text x="350.1" y="564.72" font-size="23" font-weight="normal" letter-spacing="1.55" stroke="#000" stroke-width="0.5" stroke-linejoin="round">***</text>
<path d="M549.5,544.3 V528.7 H727.2 V733.2" stroke="#000" stroke-width="3.2" fill="none" stroke-linejoin="round"/>
<text x="625.8" y="528.02" font-size="23" font-weight="normal" letter-spacing="1.55" stroke="#000" stroke-width="0.5" stroke-linejoin="round">***</text>
<path d="M549.5,580.2 V564.3 H682.7 V733.2" stroke="#000" stroke-width="3.2" fill="none" stroke-linejoin="round"/>
<text x="604.7" y="565.42" font-size="23" font-weight="normal" letter-spacing="1.55" stroke="#000" stroke-width="0.5" stroke-linejoin="round">***</text>
<path d="M549.5,616.9 V602 H633.5 V733.2" stroke="#000" stroke-width="3.2" fill="none" stroke-linejoin="round"/>
<text x="578.9" y="604.32" font-size="23" font-weight="normal" letter-spacing="1.55" stroke="#000" stroke-width="0.5" stroke-linejoin="round">***</text>
<path d="M549.5,656.5 V647.2 H594.6 V733.2" stroke="#000" stroke-width="3.2" fill="none" stroke-linejoin="round"/>
<text x="558.11" y="642.42" font-size="23" font-weight="normal" letter-spacing="1.55" stroke="#000" stroke-width="0.5" stroke-linejoin="round">***</text>
<path d="M806.7,544.3 V528.9 H987.7 V733.2" stroke="#000" stroke-width="3.2" fill="none" stroke-linejoin="round"/>
<text x="883.61" y="522.82" font-size="23" font-weight="normal" letter-spacing="1.55" stroke="#000" stroke-width="0.5" stroke-linejoin="round">***</text>
<path d="M806.7,579.8 V564.1 H942.7 V733.2" stroke="#000" stroke-width="3.2" fill="none" stroke-linejoin="round"/>
<text x="862.8" y="560.32" font-size="23" font-weight="normal" letter-spacing="1.55" stroke="#000" stroke-width="0.5" stroke-linejoin="round">***</text>
<path d="M806.7,615.9 V600.8 H897.4 V733.2" stroke="#000" stroke-width="3.2" fill="none" stroke-linejoin="round"/>
<text x="836.8" y="599.12" font-size="23" font-weight="normal" letter-spacing="1.55" stroke="#000" stroke-width="0.5" stroke-linejoin="round">***</text>
<path d="M806.7,654.3 V645.5 H856.4 V733.2" stroke="#000" stroke-width="3.2" fill="none" stroke-linejoin="round"/>
<text x="815.9" y="637.72" font-size="23" font-weight="normal" letter-spacing="1.55" stroke="#000" stroke-width="0.5" stroke-linejoin="round">***</text>
<path d="M1064.3,544.3 V531.1 H1245.4 V733.2" stroke="#000" stroke-width="3.2" fill="none" stroke-linejoin="round"/>
<text x="1141.4" y="525.82" font-size="23" font-weight="normal" letter-spacing="1.55" stroke="#000" stroke-width="0.5" stroke-linejoin="round">***</text>
<path d="M1064.3,579.8 V564.1 H1200.7 V733.2" stroke="#000" stroke-width="3.2" fill="none" stroke-linejoin="round"/>
<text x="1120.61" y="563.92" font-size="23" font-weight="normal" letter-spacing="1.55" stroke="#000" stroke-width="0.5" stroke-linejoin="round">***</text>
<path d="M1064.3,615.5 V600.8 H1155.3 V733.2" stroke="#000" stroke-width="3.2" fill="none" stroke-linejoin="round"/>
<text x="1094.5" y="602.82" font-size="23" font-weight="normal" letter-spacing="1.55" stroke="#000" stroke-width="0.5" stroke-linejoin="round">***</text>
<path d="M1063.6,689.6 V645.2 H1114.1 V733.2" stroke="#000" stroke-width="3.2" fill="none" stroke-linejoin="round"/>
<text x="1073.9" y="641.02" font-size="23" font-weight="normal" letter-spacing="1.55" stroke="#000" stroke-width="0.5" stroke-linejoin="round">***</text>
<rect x="1385.7" y="597.1" width="32.5" height="13.6" fill="none" stroke="#000" stroke-width="6"/>
<text x="1433.02" y="613.53" font-size="26.9" font-weight="bold" fill="#000">OP</text>
<rect x="1385.7" y="643.5" width="32.5" height="13.6" fill="none" stroke="#7a68ac" stroke-width="6"/>
<text x="1433.02" y="660.6" font-size="26.9" font-weight="bold" fill="#000">OP+10 mM glucose</text>
<rect x="1385.7" y="690.1" width="32.5" height="13.6" fill="none" stroke="#4a7b79" stroke-width="6"/>
<text x="1433.02" y="707.2" font-size="26.9" font-weight="bold" fill="#000">OP+25 mM glucose</text>
<rect x="1385.7" y="736.9" width="32.5" height="13.6" fill="none" stroke="#332a68" stroke-width="6"/>
<text x="1433.02" y="754" font-size="26.9" font-weight="bold" fill="#000">OP+50 mM glucose</text>
<rect x="1385.7" y="783.3" width="32.5" height="13.6" fill="none" stroke="#c81e5f" stroke-width="6"/>
<text x="1433.02" y="800.4" font-size="26.9" font-weight="bold" fill="#000">OP+100 mM glucose</text>
<text x="0.06" y="1077.4" font-size="61" font-weight="bold" fill="#000">C</text>
<rect x="130" y="1216.3" width="195.3" height="66.8" fill="#f6f6f6" stroke="#808080" stroke-width="3.2" stroke-linejoin="round"/>
<rect x="132.1" y="1383.3" width="193.2" height="68.1" fill="#f6f6f6" stroke="#808080" stroke-width="3.2" stroke-linejoin="round"/>
<text x="190.43" y="1259.01" font-size="27.3" font-weight="bold" fill="#000">HG-OP</text>
<text x="215.41" y="1428.01" font-size="27.3" font-weight="bold" fill="#000">OP</text>
<text x="142.23" y="1196.26" font-size="28.5" font-weight="bold" fill="#000" textLength="28.12" lengthAdjust="spacingAndGlyphs">F1</text>
<text x="142.23" y="1368.46" font-size="28.5" font-weight="bold" fill="#000" textLength="28.12" lengthAdjust="spacingAndGlyphs">F1</text>
<text x="215.18" y="1196.55" font-size="28.5" font-weight="bold" fill="#000" textLength="30.83" lengthAdjust="spacingAndGlyphs">F2</text>
<text x="215.18" y="1368.75" font-size="28.5" font-weight="bold" fill="#000" textLength="30.83" lengthAdjust="spacingAndGlyphs">F2</text>
<text x="282.38" y="1196.55" font-size="28.5" font-weight="bold" fill="#000" textLength="30.9" lengthAdjust="spacingAndGlyphs">F3</text>
<text x="282.38" y="1368.75" font-size="28.5" font-weight="bold" fill="#000" textLength="30.9" lengthAdjust="spacingAndGlyphs">F3</text>
<text x="435.95" y="1196.26" font-size="28.5" font-weight="bold" fill="#000" textLength="31.33" lengthAdjust="spacingAndGlyphs">F4</text>
<text x="435.95" y="1368.46" font-size="28.5" font-weight="bold" fill="#000" textLength="31.33" lengthAdjust="spacingAndGlyphs">F4</text>
<text x="24.96" y="1342.16" font-size="26.8" font-weight="bold" fill="#000" textLength="32.8" lengthAdjust="spacingAndGlyphs">P0</text>
<line x1="65.7" y1="1308.2" x2="112" y2="1262" stroke="#808080" stroke-width="3.6" stroke-linecap="butt"/>
<path d="M130.2,1246.7 L97.2,1259.8 L110.3,1263.9 L115.7,1279.3 Z" stroke="none" stroke-width="0" fill="#808080"/>
<line x1="65.7" y1="1355.7" x2="112" y2="1401.4" stroke="#808080" stroke-width="3.6" stroke-linecap="butt"/>
<path d="M130.2,1416.6 L97.2,1403.5 L110.3,1399.4 L115.7,1384.0 Z" stroke="none" stroke-width="0" fill="#808080"/>
<line x1="326.9" y1="1248.9" x2="372" y2="1248.9" stroke="#808080" stroke-width="3" stroke-linecap="butt"/>
<path d="M394.4,1248.9 L362.6,1235.0 L369.7,1248.9 L362.6,1262.6 Z" stroke="none" stroke-width="0" fill="#808080"/>
<line x1="326.2" y1="1418.9" x2="368" y2="1418.9" stroke="#808080" stroke-width="3" stroke-linecap="butt"/>
<path d="M391.9,1418.9 L359.6,1405.6 L366.7,1418.9 L359.6,1432.4 Z" stroke="none" stroke-width="0" fill="#808080"/>
<path d="M428.4,1223.3 H398 V1273.9 H428.4" stroke="#000" stroke-width="3" fill="none" stroke-linejoin="round"/>
<path d="M426.7,1391.4 H395.5 V1442.6 H426.7" stroke="#000" stroke-width="3" fill="none" stroke-linejoin="round"/>
<text x="436.45" y="1232.83" font-size="26.9" font-weight="bold" fill="#de9525">HG-OP</text>
<text x="437.42" y="1282.63" font-size="26.9" font-weight="bold" fill="#8a8a8a">OP</text>
<text x="435.95" y="1402.43" font-size="26.9" font-weight="bold" fill="#c0117e">HG-OP</text>
<text x="437.62" y="1451.53" font-size="26.9" font-weight="bold" fill="#000">OP</text>
<line x1="682.7" y1="1172.6" x2="682.7" y2="1485.4" stroke="#000" stroke-width="2.8" stroke-linecap="butt"/>
<line x1="672.8" y1="1444.55" x2="682.7" y2="1444.55" stroke="#000" stroke-width="2.8" stroke-linecap="butt"/>
<line x1="672.8" y1="1405.7" x2="682.7" y2="1405.7" stroke="#000" stroke-width="2.8" stroke-linecap="butt"/>
<line x1="672.8" y1="1366.85" x2="682.7" y2="1366.85" stroke="#000" stroke-width="2.8" stroke-linecap="butt"/>
<line x1="672.8" y1="1328" x2="682.7" y2="1328" stroke="#000" stroke-width="2.8" stroke-linecap="butt"/>
<line x1="672.8" y1="1289.15" x2="682.7" y2="1289.15" stroke="#000" stroke-width="2.8" stroke-linecap="butt"/>
<line x1="672.8" y1="1250.3" x2="682.7" y2="1250.3" stroke="#000" stroke-width="2.8" stroke-linecap="butt"/>
<line x1="672.8" y1="1211.45" x2="682.7" y2="1211.45" stroke="#000" stroke-width="2.8" stroke-linecap="butt"/>
<line x1="672.8" y1="1172.6" x2="682.7" y2="1172.6" stroke="#000" stroke-width="2.8" stroke-linecap="butt"/>
<text x="604.17" y="1182.02" font-size="19.6" font-weight="bold" fill="#000">1600</text>
<text x="604.17" y="1220.87" font-size="19.6" font-weight="bold" fill="#000">1400</text>
<text x="604.17" y="1259.72" font-size="19.6" font-weight="bold" fill="#000">1200</text>
<text x="604.17" y="1298.57" font-size="19.6" font-weight="bold" fill="#000">1000</text>
<text x="618.65" y="1337.42" font-size="19.6" font-weight="bold" fill="#000">800</text>
<text x="618.95" y="1376.27" font-size="19.6" font-weight="bold" fill="#000">600</text>
<text x="618.65" y="1415.12" font-size="19.6" font-weight="bold" fill="#000">400</text>
<text x="618.65" y="1453.97" font-size="19.6" font-weight="bold" fill="#000">200</text>
<text x="648.31" y="1494.12" font-size="19.6" font-weight="bold" fill="#000">0</text>
<line x1="676.8" y1="1484.1" x2="964.8" y2="1484.1" stroke="#000" stroke-width="2.8" stroke-linecap="butt"/>
<rect x="700.9" y="1321.4" width="38.7" height="161.4" fill="#dc9628"/>
<rect x="751.5" y="1210" width="38.3" height="272.8" fill="#898989"/>
<rect x="841.8" y="1298.1" width="38.1" height="184.7" fill="#c0047a"/>
<rect x="895.3" y="1204.1" width="40.4" height="278.7" fill="#000"/>
<line x1="720" y1="1310.7" x2="720" y2="1334.6" stroke="#555555" stroke-width="2.2" stroke-linecap="butt"/>
<line x1="714.8" y1="1310.7" x2="725.2" y2="1310.7" stroke="#555555" stroke-width="2.2" stroke-linecap="butt"/>
<line x1="714.8" y1="1334.6" x2="725.2" y2="1334.6" stroke="#555555" stroke-width="2.2" stroke-linecap="butt"/>
<line x1="771.1" y1="1189.5" x2="771.1" y2="1233.5" stroke="#555555" stroke-width="2.2" stroke-linecap="butt"/>
<line x1="765.9" y1="1189.5" x2="776.3" y2="1189.5" stroke="#555555" stroke-width="2.2" stroke-linecap="butt"/>
<line x1="765.9" y1="1233.5" x2="776.3" y2="1233.5" stroke="#555555" stroke-width="2.2" stroke-linecap="butt"/>
<line x1="864.6" y1="1286.3" x2="864.6" y2="1312.1" stroke="#555555" stroke-width="2.2" stroke-linecap="butt"/>
<line x1="859.4" y1="1286.3" x2="869.8" y2="1286.3" stroke="#555555" stroke-width="2.2" stroke-linecap="butt"/>
<line x1="859.4" y1="1312.1" x2="869.8" y2="1312.1" stroke="#555555" stroke-width="2.2" stroke-linecap="butt"/>
<line x1="915.1" y1="1186.7" x2="915.1" y2="1223.2" stroke="#555555" stroke-width="2.2" stroke-linecap="butt"/>
<line x1="909.9" y1="1186.7" x2="920.3" y2="1186.7" stroke="#555555" stroke-width="2.2" stroke-linecap="butt"/>
<line x1="909.9" y1="1223.2" x2="920.3" y2="1223.2" stroke="#555555" stroke-width="2.2" stroke-linecap="butt"/>
<path d="M713.8,1172 V1147.9 H771.1 V1172.6" stroke="#000" stroke-width="2.8" fill="none" stroke-linejoin="round"/>
<path d="M856.1,1168.4 V1147.9 H913.7 V1167" stroke="#000" stroke-width="2.8" fill="none" stroke-linejoin="round"/>
<text x="725.5" y="1140.22" font-size="23" font-weight="normal" letter-spacing="1.55" stroke="#000" stroke-width="0.5" stroke-linejoin="round">***</text>
<text x="867.8" y="1140.22" font-size="23" font-weight="normal" letter-spacing="1.55" stroke="#000" stroke-width="0.5" stroke-linejoin="round">***</text>
<text transform="translate(590.97,1492.83) rotate(-90)" x="0" y="0" font-size="23.4" font-weight="bold" fill="#000">Total progeny produced by 5 worms</text>
<text x="993.43" y="1076.79" font-size="61" font-weight="bold" fill="#000">D</text>
<text x="1276.48" y="1067.18" font-size="23.7" font-weight="normal" fill="#000">(p=0.00485)</text>
<line x1="1153" y1="1108.2" x2="1153" y2="1448.6" stroke="#000" stroke-width="3.2" stroke-linecap="round"/>
<line x1="1145.6" y1="1433.13" x2="1152" y2="1433.13" stroke="#000" stroke-width="3.2" stroke-linecap="round"/>
<line x1="1145.6" y1="1419.07" x2="1152" y2="1419.07" stroke="#000" stroke-width="3.2" stroke-linecap="round"/>
<line x1="1145.6" y1="1405" x2="1152" y2="1405" stroke="#000" stroke-width="3.2" stroke-linecap="round"/>
<line x1="1139.4" y1="1390.93" x2="1152" y2="1390.93" stroke="#000" stroke-width="3.2" stroke-linecap="round"/>
<line x1="1145.6" y1="1376.87" x2="1152" y2="1376.87" stroke="#000" stroke-width="3.2" stroke-linecap="round"/>
<line x1="1145.6" y1="1362.8" x2="1152" y2="1362.8" stroke="#000" stroke-width="3.2" stroke-linecap="round"/>
<line x1="1145.6" y1="1348.73" x2="1152" y2="1348.73" stroke="#000" stroke-width="3.2" stroke-linecap="round"/>
<line x1="1139.4" y1="1334.67" x2="1152" y2="1334.67" stroke="#000" stroke-width="3.2" stroke-linecap="round"/>
<line x1="1145.6" y1="1320.6" x2="1152" y2="1320.6" stroke="#000" stroke-width="3.2" stroke-linecap="round"/>
<line x1="1145.6" y1="1306.53" x2="1152" y2="1306.53" stroke="#000" stroke-width="3.2" stroke-linecap="round"/>
<line x1="1145.6" y1="1292.47" x2="1152" y2="1292.47" stroke="#000" stroke-width="3.2" stroke-linecap="round"/>
<line x1="1139.4" y1="1278.4" x2="1152" y2="1278.4" stroke="#000" stroke-width="3.2" stroke-linecap="round"/>
<line x1="1145.6" y1="1264.33" x2="1152" y2="1264.33" stroke="#000" stroke-width="3.2" stroke-linecap="round"/>
<line x1="1145.6" y1="1250.27" x2="1152" y2="1250.27" stroke="#000" stroke-width="3.2" stroke-linecap="round"/>
<line x1="1145.6" y1="1236.2" x2="1152" y2="1236.2" stroke="#000" stroke-width="3.2" stroke-linecap="round"/>
<line x1="1139.4" y1="1222.13" x2="1152" y2="1222.13" stroke="#000" stroke-width="3.2" stroke-linecap="round"/>
<line x1="1145.6" y1="1208.07" x2="1152" y2="1208.07" stroke="#000" stroke-width="3.2" stroke-linecap="round"/>
<line x1="1145.6" y1="1194" x2="1152" y2="1194" stroke="#000" stroke-width="3.2" stroke-linecap="round"/>
<line x1="1145.6" y1="1179.93" x2="1152" y2="1179.93" stroke="#000" stroke-width="3.2" stroke-linecap="round"/>
<line x1="1139.4" y1="1165.87" x2="1152" y2="1165.87" stroke="#000" stroke-width="3.2" stroke-linecap="round"/>
<line x1="1145.6" y1="1151.8" x2="1152" y2="1151.8" stroke="#000" stroke-width="3.2" stroke-linecap="round"/>
<line x1="1145.6" y1="1137.73" x2="1152" y2="1137.73" stroke="#000" stroke-width="3.2" stroke-linecap="round"/>
<line x1="1145.6" y1="1123.67" x2="1152" y2="1123.67" stroke="#000" stroke-width="3.2" stroke-linecap="round"/>
<line x1="1139.4" y1="1109.6" x2="1152" y2="1109.6" stroke="#000" stroke-width="3.2" stroke-linecap="round"/>
<text x="1091.54" y="1456.35" font-size="22.5" font-weight="bold" fill="#000">800</text>
<text x="1091.54" y="1400.08" font-size="22.5" font-weight="bold" fill="#000">900</text>
<text x="1078.94" y="1343.82" font-size="22.5" font-weight="bold" fill="#000">1000</text>
<text x="1080.17" y="1287.55" font-size="22.5" font-weight="bold" fill="#000">1100</text>
<text x="1078.94" y="1231.28" font-size="22.5" font-weight="bold" fill="#000">1200</text>
<text x="1078.94" y="1175.02" font-size="22.5" font-weight="bold" fill="#000">1300</text>
<text x="1078.94" y="1118.75" font-size="22.5" font-weight="bold" fill="#000">1400</text>
<line x1="1139.4" y1="1447.3" x2="1493.8" y2="1447.3" stroke="#000" stroke-width="3.2" stroke-linecap="round"/>
<line x1="1204.8" y1="1449" x2="1204.8" y2="1461.6" stroke="#000" stroke-width="3.2" stroke-linecap="round"/>
<line x1="1282.8" y1="1449" x2="1282.8" y2="1461.6" stroke="#000" stroke-width="3.2" stroke-linecap="round"/>
<line x1="1360.8" y1="1449" x2="1360.8" y2="1461.6" stroke="#000" stroke-width="3.2" stroke-linecap="round"/>
<line x1="1438.6" y1="1449" x2="1438.6" y2="1461.6" stroke="#000" stroke-width="3.2" stroke-linecap="round"/>
<text transform="translate(1059.79,1472.23) rotate(-90)" x="0" y="0" font-size="23.3" font-weight="bold" fill="#000">Total progeny produced by 5 worms</text>
<line x1="1205.2" y1="1137.7" x2="1205.2" y2="1153.15" stroke="#141414" stroke-width="6.6" stroke-linecap="butt"/>
<line x1="1205.2" y1="1229.45" x2="1205.2" y2="1256.2" stroke="#141414" stroke-width="6.6" stroke-linecap="butt"/>
<line x1="1193.1" y1="1137.7" x2="1217.9" y2="1137.7" stroke="#141414" stroke-width="6.6" stroke-linecap="round"/>
<line x1="1193.1" y1="1256.2" x2="1217.9" y2="1256.2" stroke="#141414" stroke-width="6.6" stroke-linecap="round"/>
<rect x="1182.15" y="1153.15" width="46.1" height="76.3" fill="none" stroke="#141414" stroke-width="6.5"/>
<line x1="1185.4" y1="1196" x2="1225" y2="1196" stroke="#141414" stroke-width="6" stroke-linecap="butt"/>
<line x1="1283.2" y1="1216.5" x2="1283.2" y2="1251.25" stroke="#c8145c" stroke-width="6.6" stroke-linecap="butt"/>
<line x1="1283.2" y1="1354.35" x2="1283.2" y2="1383.2" stroke="#c8145c" stroke-width="6.6" stroke-linecap="butt"/>
<line x1="1271" y1="1216.5" x2="1295.4" y2="1216.5" stroke="#c8145c" stroke-width="6.6" stroke-linecap="round"/>
<line x1="1271" y1="1383.2" x2="1295.4" y2="1383.2" stroke="#c8145c" stroke-width="6.6" stroke-linecap="round"/>
<rect x="1259.95" y="1251.25" width="46.4" height="103.1" fill="none" stroke="#c8145c" stroke-width="6.5"/>
<line x1="1263.2" y1="1288.6" x2="1303.1" y2="1288.6" stroke="#c8145c" stroke-width="6" stroke-linecap="butt"/>
<line x1="1361" y1="1153.4" x2="1361" y2="1166.95" stroke="#5a9a48" stroke-width="6.6" stroke-linecap="butt"/>
<line x1="1361" y1="1307.35" x2="1361" y2="1372.3" stroke="#5a9a48" stroke-width="6.6" stroke-linecap="butt"/>
<line x1="1348.8" y1="1153.4" x2="1373.3" y2="1153.4" stroke="#5a9a48" stroke-width="6.6" stroke-linecap="round"/>
<line x1="1348.8" y1="1372.3" x2="1373.3" y2="1372.3" stroke="#5a9a48" stroke-width="6.6" stroke-linecap="round"/>
<rect x="1337.85" y="1166.95" width="46.4" height="140.4" fill="none" stroke="#5a9a48" stroke-width="6.5"/>
<line x1="1341.1" y1="1237.1" x2="1381" y2="1237.1" stroke="#5a9a48" stroke-width="6" stroke-linecap="butt"/>
<line x1="1438.9" y1="1202.5" x2="1438.9" y2="1220.65" stroke="#5ba0e1" stroke-width="6.6" stroke-linecap="butt"/>
<line x1="1438.9" y1="1279.95" x2="1438.9" y2="1378.7" stroke="#5ba0e1" stroke-width="6.6" stroke-linecap="butt"/>
<line x1="1426.6" y1="1202.5" x2="1451.1" y2="1202.5" stroke="#5ba0e1" stroke-width="6.6" stroke-linecap="round"/>
<line x1="1426.6" y1="1378.7" x2="1451.1" y2="1378.7" stroke="#5ba0e1" stroke-width="6.6" stroke-linecap="round"/>
<rect x="1415.65" y="1220.65" width="46.4" height="59.3" fill="none" stroke="#5ba0e1" stroke-width="6.5"/>
<line x1="1418.9" y1="1257.6" x2="1458.8" y2="1257.6" stroke="#5ba0e1" stroke-width="6" stroke-linecap="butt"/>
<text x="1198.7" y="1109.51" font-size="26.5" font-weight="bold" fill="#000">a</text>
<text x="1274.68" y="1110.31" font-size="26.5" font-weight="bold" fill="#000">b</text>
<text x="1352.61" y="1110.31" font-size="26.5" font-weight="bold" fill="#000">ab</text>
<text x="1422.5" y="1110.31" font-size="26.5" font-weight="bold" fill="#000">ab</text>
<text x="1124.86" y="1489.04" font-size="23.5" font-weight="bold" fill="#000">OP (L1-Adult)</text>
<text x="1198.77" y="1524.64" font-size="23.5" font-weight="bold" fill="#c0127a">HG-OP (L1-Adult)</text>
<text x="1314.46" y="1488.96" font-size="23.4" font-weight="bold" fill="#3b6e35">OP (L1-L4)</text>
<line x1="1432.9" y1="1480.5" x2="1456" y2="1480.5" stroke="#3b6e35" stroke-width="2.6" stroke-linecap="butt"/>
<path d="M1453.2,1476.6 L1468.9,1480.5 L1453.2,1484.9 Z" stroke="none" stroke-width="0" fill="#3b6e35"/>
<text x="1471.07" y="1489.04" font-size="23.5" font-weight="bold" fill="#3b6e35">HG-OP (post L4)</text>
<text x="1425.48" y="1525.16" font-size="23.4" font-weight="bold" fill="#5b9be0">HG-OP (L1-L4)</text>
<line x1="1588.9" y1="1516.6" x2="1610" y2="1516.6" stroke="#5b9be0" stroke-width="2.6" stroke-linecap="butt"/>
<path d="M1607.7,1512.6 L1624.6,1516.6 L1607.7,1520.8 Z" stroke="none" stroke-width="0" fill="#5b9be0"/>
<text x="1631.26" y="1525.24" font-size="23.5" font-weight="bold" fill="#5b9be0">OP (post L4)</text>
</svg></body></html>
